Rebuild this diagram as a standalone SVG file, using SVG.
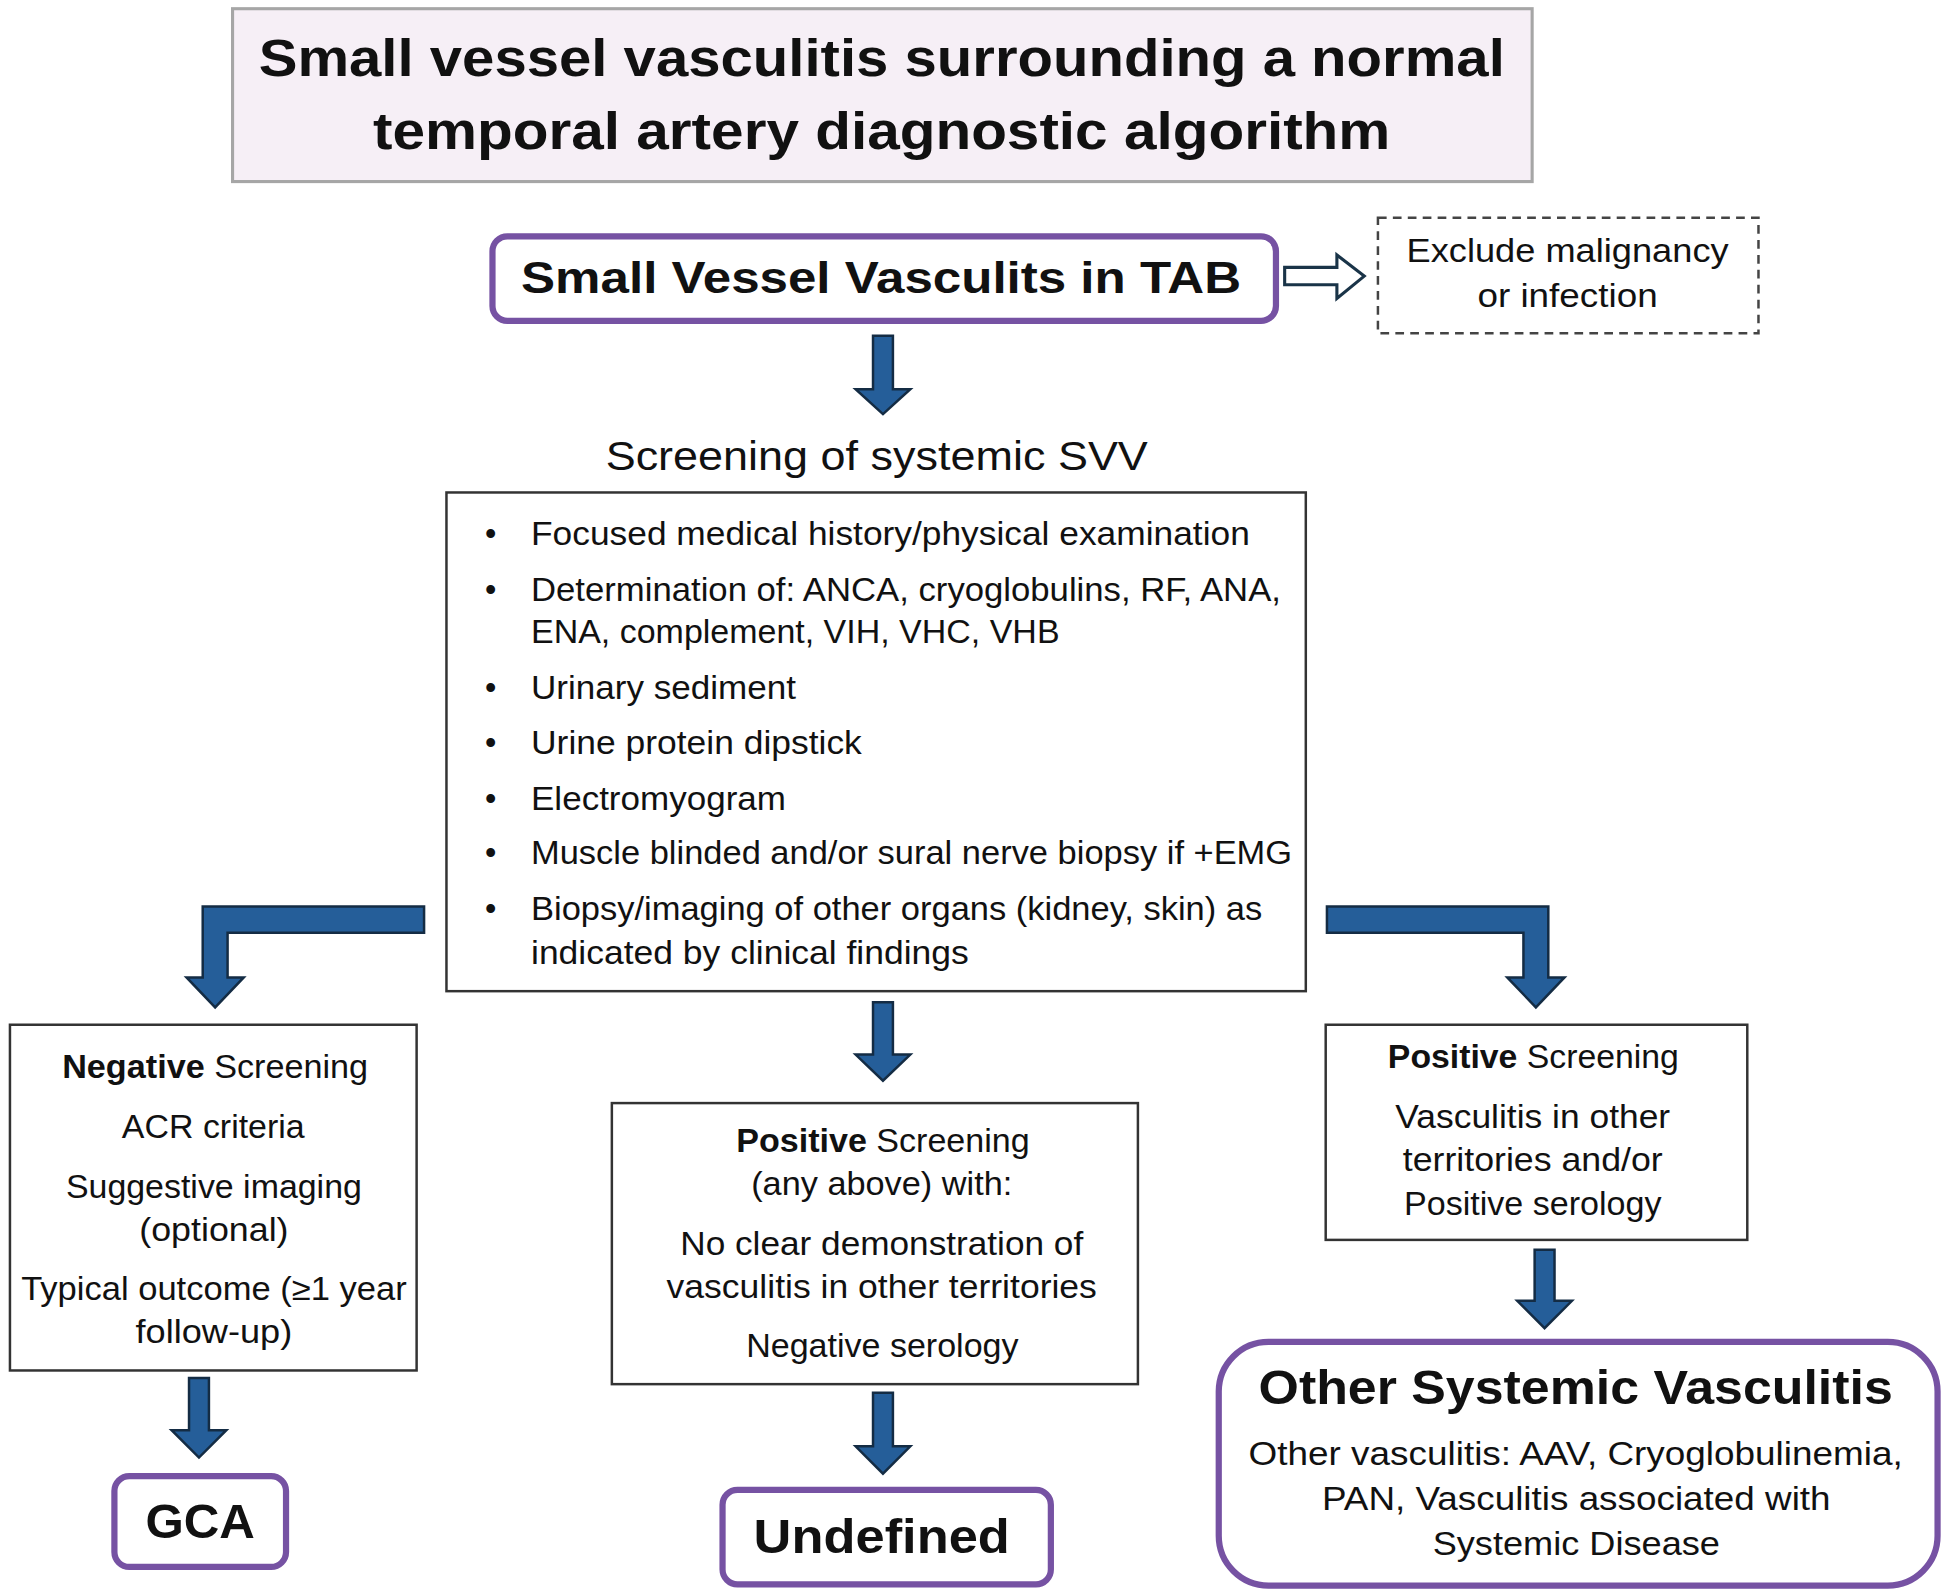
<svg xmlns="http://www.w3.org/2000/svg" width="1950" height="1595" viewBox="0 0 1950 1595">
<defs>
<style>
text{font-family:"Liberation Sans",Arial,sans-serif;fill:#111;}
.t{font-size:41px;font-weight:bold;}
.b{font-size:36px;font-weight:bold;}
.bb{font-size:39px;font-weight:bold;}
.n{font-size:26px;}
.h{font-size:33px;}
.box{fill:#fff;stroke:#333;stroke-width:2;}
.pur{fill:#fff;stroke:#7652a3;stroke-width:5;}
.arr{fill:#255e99;stroke:#142c44;stroke-width:2;stroke-linejoin:miter;}
</style>
</defs>
<rect width="1950" height="1595" fill="#fff"/>
<g transform="scale(1.24362)">
<g id="title">
<rect x="187" y="7" width="1045" height="139" fill="#f6eff6" stroke="#a6a6a6" stroke-width="2.5"/>
<text class="t" x="208" y="61" textLength="1002" lengthAdjust="spacingAndGlyphs">Small vessel vasculitis surrounding a normal</text>
<text class="t" x="300" y="120" textLength="818" lengthAdjust="spacingAndGlyphs">temporal artery diagnostic algorithm</text>
</g>
<g id="tab">
<rect class="pur" x="396" y="190" width="630" height="68" rx="12"/>
<text class="b" x="419" y="236" textLength="579" lengthAdjust="spacingAndGlyphs">Small Vessel Vasculits in TAB</text>
</g>
<g id="exclude">
<rect x="1108" y="175" width="306" height="93" fill="#fff" stroke="#444" stroke-width="2" stroke-dasharray="7,5"/>
<text class="n" x="1131" y="211" textLength="259" lengthAdjust="spacingAndGlyphs">Exclude malignancy</text>
<text class="n" x="1188" y="247" textLength="145" lengthAdjust="spacingAndGlyphs">or infection</text>
</g>
<g id="screening-title">
<text class="h" x="487" y="378" textLength="436" lengthAdjust="spacingAndGlyphs">Screening of systemic SVV</text>
</g>
<g id="screening">
<rect class="box" x="359" y="396" width="691" height="401"/>
<g class="n">
<text x="390" y="438">•</text><text x="427" y="438" textLength="578" lengthAdjust="spacingAndGlyphs">Focused medical history/physical examination</text>
<text x="390" y="483">•</text><text x="427" y="483" textLength="603" lengthAdjust="spacingAndGlyphs">Determination of: ANCA, cryoglobulins, RF, ANA,</text>
<text x="427" y="517" textLength="425" lengthAdjust="spacingAndGlyphs">ENA, complement, VIH, VHC, VHB</text>
<text x="390" y="562">•</text><text x="427" y="562" textLength="213" lengthAdjust="spacingAndGlyphs">Urinary sediment</text>
<text x="390" y="606">•</text><text x="427" y="606" textLength="266" lengthAdjust="spacingAndGlyphs">Urine protein dipstick</text>
<text x="390" y="651">•</text><text x="427" y="651" textLength="205" lengthAdjust="spacingAndGlyphs">Electromyogram</text>
<text x="390" y="695">•</text><text x="427" y="695" textLength="612" lengthAdjust="spacingAndGlyphs">Muscle blinded and/or sural nerve biopsy if +EMG</text>
<text x="390" y="740">•</text><text x="427" y="740" textLength="588" lengthAdjust="spacingAndGlyphs">Biopsy/imaging of other organs (kidney, skin) as</text>
<text x="427" y="775" textLength="352" lengthAdjust="spacingAndGlyphs">indicated by clinical findings</text>
</g>
</g>
<g id="negative">
<rect class="box" x="8" y="824" width="327" height="278"/>
<g class="n">
<text x="50" y="867" textLength="246" lengthAdjust="spacingAndGlyphs"><tspan font-weight="bold">Negative</tspan> Screening</text>
<text x="98" y="915" textLength="147" lengthAdjust="spacingAndGlyphs">ACR criteria</text>
<text x="53" y="963" textLength="238" lengthAdjust="spacingAndGlyphs">Suggestive imaging</text>
<text x="112" y="998" textLength="120" lengthAdjust="spacingAndGlyphs">(optional)</text>
<text x="17" y="1045" textLength="310" lengthAdjust="spacingAndGlyphs">Typical outcome (≥1 year</text>
<text x="109" y="1080" textLength="126" lengthAdjust="spacingAndGlyphs">follow-up)</text>
</g>
</g>
<g id="positive-undefined">
<rect class="box" x="492" y="887" width="423" height="226"/>
<g class="n">
<text x="592" y="926" textLength="236" lengthAdjust="spacingAndGlyphs"><tspan font-weight="bold">Positive</tspan> Screening</text>
<text x="604" y="961" textLength="210" lengthAdjust="spacingAndGlyphs">(any above) with:</text>
<text x="547" y="1009" textLength="324" lengthAdjust="spacingAndGlyphs">No clear demonstration of</text>
<text x="536" y="1044" textLength="346" lengthAdjust="spacingAndGlyphs">vasculitis in other territories</text>
<text x="600" y="1091" textLength="219" lengthAdjust="spacingAndGlyphs">Negative serology</text>
</g>
</g>
<g id="positive">
<rect class="box" x="1066" y="824" width="339" height="173"/>
<g class="n">
<text x="1116" y="859" textLength="234" lengthAdjust="spacingAndGlyphs"><tspan font-weight="bold">Positive</tspan> Screening</text>
<text x="1122" y="907" textLength="221" lengthAdjust="spacingAndGlyphs">Vasculitis in other</text>
<text x="1128" y="942" textLength="209" lengthAdjust="spacingAndGlyphs">territories and/or</text>
<text x="1129" y="977" textLength="207" lengthAdjust="spacingAndGlyphs">Positive serology</text>
</g>
</g>
<g id="gca">
<rect class="pur" x="92" y="1187" width="138" height="73" rx="12"/>
<text class="bb" x="117" y="1237" textLength="88" lengthAdjust="spacingAndGlyphs">GCA</text>
</g>
<g id="undefined">
<rect class="pur" x="581" y="1198" width="264" height="76" rx="12"/>
<text class="bb" x="606" y="1249" textLength="206" lengthAdjust="spacingAndGlyphs">Undefined</text>
</g>
<g id="other">
<rect class="pur" x="980" y="1079" width="578" height="196" rx="40"/>
<text class="bb" x="1012" y="1129" textLength="510" lengthAdjust="spacingAndGlyphs">Other Systemic Vasculitis</text>
<g class="n">
<text x="1004" y="1178" textLength="526" lengthAdjust="spacingAndGlyphs">Other vasculitis: AAV, Cryoglobulinemia,</text>
<text x="1063" y="1214" textLength="409" lengthAdjust="spacingAndGlyphs">PAN, Vasculitis associated with</text>
<text x="1152" y="1250" textLength="231" lengthAdjust="spacingAndGlyphs">Systemic Disease</text>
</g>
</g>
<g id="connectors">
<path d="M1033,215 H1075 V205 L1097,222 L1075,240 V229 H1033 Z" fill="#fff" stroke="#1a3448" stroke-width="2.5"/>
<path class="arr" d="M702,270 H718 V313 H732 L710,333 L688,313 H702 Z"/>
<path class="arr" d="M341,729 V750 H183 V786 H196 L173,810 L150,786 H163 V729 Z"/>
<path class="arr" d="M1067,729 V750 H1225 V786 H1212 L1235,810 L1258,786 H1245 V729 Z"/>
<path class="arr" d="M702,806 H718 V848 H732 L710,869 L688,848 H702 Z"/>
<path class="arr" d="M152,1108 H168 V1150 H182 L160,1172 L138,1150 H152 Z"/>
<path class="arr" d="M702,1120 H718 V1163 H732 L710,1185 L688,1163 H702 Z"/>
<path class="arr" d="M1234,1005 H1250 V1046 H1264 L1242,1068 L1220,1046 H1234 Z"/>
</g>
</g>
</svg>
